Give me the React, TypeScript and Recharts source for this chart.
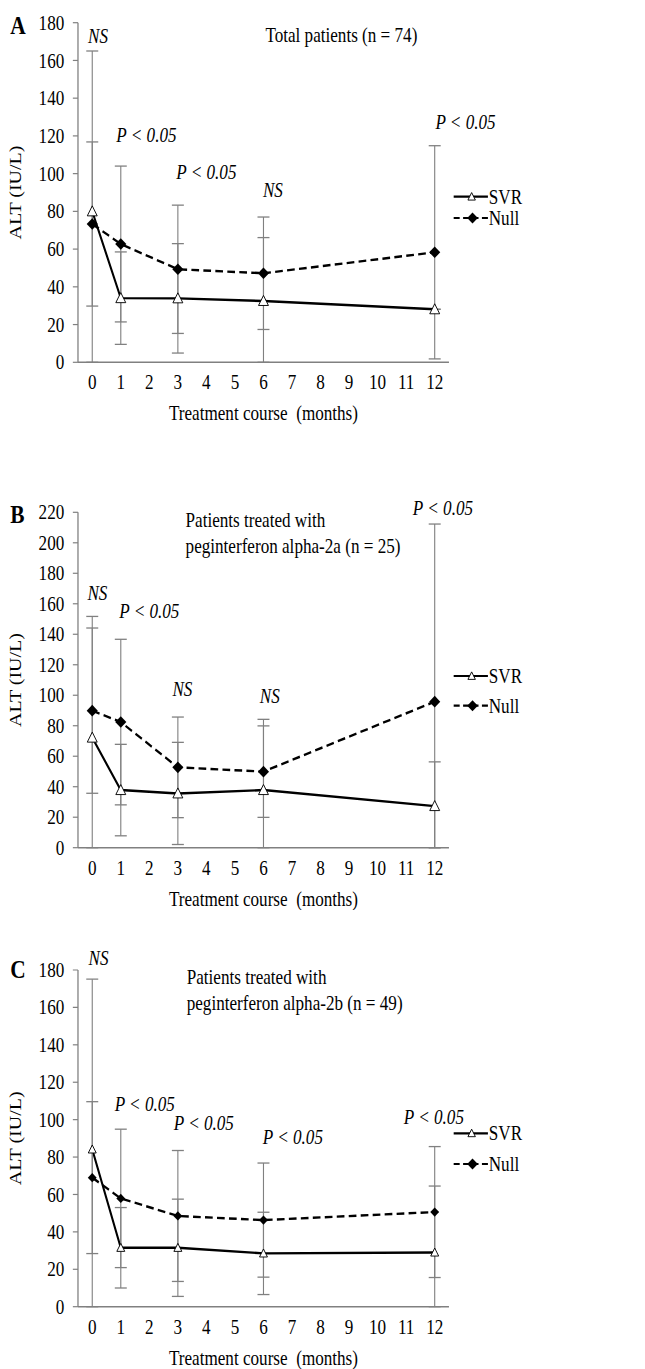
import React from "react";
import { LineChart, Line, XAxis, YAxis, ErrorBar, ReferenceDot, Label } from "recharts";

// x tick labels (months) and the months that were measured
const monthTicks = [0, 1, 2, 3, 4, 5, 6, 7, 8, 9, 10, 11, 12];
const months = [0, 1, 3, 6, 12];

// A: total patients
const svrA = [80, 34, 33.9, 32.5, 28.1];
const svrSdA = [85, 24.5, 29, 33.6, 0];
const nullA = [73.3, 62.7, 49.3, 47.2, 58.3];
const nullSdA = [43.5, 41.3, 34, 29.8, 56.5];

// B: peginterferon alpha-2a
const svrB = [72.2, 37.8, 35.6, 37.8, 27.3];
const svrSdB = [79.5, 30, 33.5, 46.4, 29];
const nullB = [89.9, 82.4, 52.7, 49.9, 95.8];
const nullSdB = [54.2, 54.3, 33, 30, 116.5];

// C: peginterferon alpha-2b
const svrC = [84.1, 31.5, 31.5, 28.5, 29];
const svrSdC = [91, 21.5, 26, 22, 35.5];
const nullC = [69, 57.9, 48.5, 46.3, 50.6];
const nullSdC = [40.6, 37, 35, 30.5, 35];

const ticksA = [0, 20, 40, 60, 80, 100, 120, 140, 160, 180];
const ticksB = [0, 20, 40, 60, 80, 100, 120, 140, 160, 180, 200, 220];

const SX = 0.856; // the figure is a bit squeezed horizontally
const W = 754;
const FONT = '"Liberation Serif", "Times New Roman", serif';
const GRAY = "#808080";

const buildRows = (svr: number[], svrSd: number[], nul: number[], nulSd: number[]) =>
  months.map((m, i) => ({
    month: m,
    svr: svr[i],
    nul: nul[i],
    // lower whisker stops at the axis
    svrErr: [Math.min(svrSd[i], svr[i]), svrSd[i]],
    nulErr: [Math.min(nulSd[i], nul[i]), nulSd[i]],
  }));

const panels = [
  {
    letter: "A",
    top: 0,
    height: 430,
    plotTop: 22.7,
    plotH: 339.6,
    ticks: ticksA,
    data: buildRows(svrA, svrSdA, nullA, nullSdA),
    notes: [
      { x: 0.2, y: 173, text: "NS" },
      { x: 1.9, y: 120.5, text: "P < 0.05" },
      { x: 4.0, y: 101, text: "P < 0.05" },
      { x: 6.33, y: 91.3, text: "NS" },
      { x: 13.08, y: 127.5, text: "P < 0.05" },
    ],
    title: [{ x: 8.73, y: 173.5, text: "Total patients (n = 74)", anchor: "middle" }],
    letterY: 34,
    legendY: [196.7, 218],
    mk: 1,
  },
  {
    letter: "B",
    top: 430,
    height: 480,
    plotTop: 82.3,
    plotH: 335.4,
    ticks: ticksB,
    data: buildRows(svrB, svrSdB, nullB, nullSdB),
    notes: [
      { x: 0.18, y: 166.8, text: "NS" },
      { x: 2.0, y: 155.3, text: "P < 0.05" },
      { x: 3.16, y: 103.9, text: "NS" },
      { x: 6.22, y: 99.5, text: "NS" },
      { x: 12.29, y: 223, text: "P < 0.05" },
    ],
    title: [
      { x: 3.27, y: 215, text: "Patients treated with", anchor: "start" },
      { x: 3.27, y: 198, text: "peginterferon alpha-2a (n = 25)", anchor: "start" },
    ],
    letterY: 93,
    legendY: [246, 275.7],
    mk: 1,
  },
  {
    letter: "C",
    top: 910,
    height: 459,
    plotTop: 60,
    plotH: 336.7,
    ticks: ticksA,
    data: buildRows(svrC, svrSdC, nullC, nullSdC),
    notes: [
      { x: 0.22, y: 186.2, text: "NS" },
      { x: 1.84, y: 108.2, text: "P < 0.05" },
      { x: 3.91, y: 98, text: "P < 0.05" },
      { x: 7.03, y: 90.9, text: "P < 0.05" },
      { x: 11.97, y: 101.2, text: "P < 0.05" },
    ],
    title: [
      { x: 3.31, y: 176, text: "Patients treated with", anchor: "start" },
      { x: 3.31, y: 162.2, text: "peginterferon alpha-2b (n = 49)", anchor: "start" },
    ],
    letterY: 68,
    legendY: [223.3, 254],
    mk: 0.8,
  },
];

const tri = (cx: number, cy: number, s: number, key?: any) => (
  <path
    key={key}
    d={`M${cx},${cy - 5.5 * s}L${cx + 5.8 * s},${cy + 4.5 * s}L${cx - 5.8 * s},${cy + 4.5 * s}Z`}
    fill="#fff"
    stroke="#000"
    strokeWidth={1}
  />
);

const dia = (cx: number, cy: number, s: number, key?: any) => (
  <path
    key={key}
    d={`M${cx},${cy - 5.5 * s}L${cx + 6.2 * s},${cy}L${cx},${cy + 5.5 * s}L${cx - 6.2 * s},${cy}Z`}
    fill="#000"
  />
);

const txt = { fontFamily: FONT, fontSize: 20, fill: "#000" };

const noteLabel = (text: string, italic: boolean, anchor: string) => (p: any) => {
  const vb = p.viewBox || {};
  const cx = vb.x + (vb.width || 0) / 2;
  const cy = vb.y + (vb.height || 0) / 2;
  return (
    <text x={cx} y={cy} textAnchor={anchor} dominantBaseline="central" fontStyle={italic ? "italic" : "normal"} {...txt}>
      {text}
    </text>
  );
};

const yLabel = (p: any) => {
  const vb = p.viewBox || {};
  const x = (vb.x || 0) + 17.5;
  const y = vb.y + vb.height / 2;
  return (
    <text x={x} y={y} transform={`rotate(-90 ${x} ${y})`} textAnchor="middle" dominantBaseline="central" {...txt}>
      ALT (IU/L)
    </text>
  );
};

const xLabel = (p: any) => {
  const vb = p.viewBox || {};
  const x = vb.x + vb.width / 2;
  const y = vb.y + 51;
  return (
    <text x={x} y={y} textAnchor="middle" dominantBaseline="central" style={{ whiteSpace: "pre" }} {...txt}>
      {"Treatment course  (months)"}
    </text>
  );
};

const Panel = ({ cfg }: { cfg: any }) => {
  const bottom = cfg.height - cfg.plotTop - cfg.plotH - 60;
  const yMax = cfg.ticks[cfg.ticks.length - 1];
  const s = cfg.mk;
  return (
    <div style={{ position: "absolute", left: 0, top: cfg.top, width: W, height: cfg.height }}>
      <LineChart
        width={W}
        height={cfg.height}
        data={cfg.data}
        margin={{ top: cfg.plotTop, right: 229.5, left: 0, bottom }}
      >
        <XAxis
          dataKey="month"
          type="number"
          domain={[-0.5, 12.5]}
          ticks={monthTicks}
          interval={0}
          tickLine={false}
          axisLine={{ stroke: GRAY, strokeWidth: 1.5 }}
          tick={txt}
          tickMargin={7}
          height={60}
        >
          <Label content={xLabel} />
        </XAxis>
        <YAxis
          type="number"
          domain={[0, yMax]}
          ticks={cfg.ticks}
          interval={0}
          allowDataOverflow
          width={91.1}
          tickSize={6}
          tickMargin={10}
          tickLine={{ stroke: GRAY, strokeWidth: 1.2 }}
          axisLine={{ stroke: GRAY, strokeWidth: 1.5 }}
          tick={txt}
        >
          <Label content={yLabel} />
        </YAxis>
        <Line
          dataKey="svr"
          type="linear"
          stroke="#000"
          strokeWidth={2.4}
          isAnimationActive={false}
          activeDot={false}
          dot={(p: any) => tri(p.cx, p.cy, s, p.index)}
        >
          <ErrorBar dataKey="svrErr" direction="y" width={7} stroke={GRAY} strokeWidth={1.3} isAnimationActive={false} />
        </Line>
        <Line
          dataKey="nul"
          type="linear"
          stroke="#000"
          strokeWidth={2.4}
          strokeDasharray="9 5"
          isAnimationActive={false}
          activeDot={false}
          dot={(p: any) => dia(p.cx, p.cy, s * 1.05, p.index)}
        >
          <ErrorBar dataKey="nulErr" direction="y" width={7} stroke={GRAY} strokeWidth={1.3} isAnimationActive={false} />
        </Line>
        {cfg.notes.map((n: any, i: number) => (
          <ReferenceDot
            key={"n" + i}
            x={n.x}
            y={n.y}
            r={1}
            fill="none"
            stroke="none"
            ifOverflow="visible"
            label={{ content: noteLabel(n.text, true, "middle") }}
          />
        ))}
        {cfg.title.map((t: any, i: number) => (
          <ReferenceDot
            key={"t" + i}
            x={t.x}
            y={t.y}
            r={1}
            fill="none"
            stroke="none"
            ifOverflow="visible"
            label={{ content: noteLabel(t.text, false, t.anchor) }}
          />
        ))}
      </LineChart>
      <svg
        width={W}
        height={cfg.height}
        style={{ position: "absolute", left: 0, top: 0, pointerEvents: "none" }}
      >
        <text x={12} y={cfg.letterY} fontFamily={FONT} fontSize={25} fontWeight="bold" fill="#000">
          {cfg.letter}
        </text>
        <line x1={530} x2={570} y1={cfg.legendY[0]} y2={cfg.legendY[0]} stroke="#000" strokeWidth={2.2} />
        {tri(551, cfg.legendY[0], 0.75)}
        <text x={571} y={cfg.legendY[0]} dominantBaseline="central" {...txt}>
          SVR
        </text>
        <line
          x1={530}
          x2={570}
          y1={cfg.legendY[1]}
          y2={cfg.legendY[1]}
          stroke="#000"
          strokeWidth={2.2}
          strokeDasharray="7 4"
        />
        {dia(552, cfg.legendY[1], 1)}
        <text x={571} y={cfg.legendY[1]} dominantBaseline="central" {...txt}>
          Null
        </text>
      </svg>
    </div>
  );
};

export default function App() {
  return (
    <div style={{ position: "absolute", left: 0, top: 0, width: 645, height: 1369, overflow: "hidden", background: "#fff" }}>
      <div style={{ position: "absolute", left: 0, top: 0, width: W, height: 1369, transform: `scaleX(${SX})`, transformOrigin: "0 0" }}>
        {panels.map((p) => (
          <Panel key={p.letter} cfg={p} />
        ))}
      </div>
    </div>
  );
}
